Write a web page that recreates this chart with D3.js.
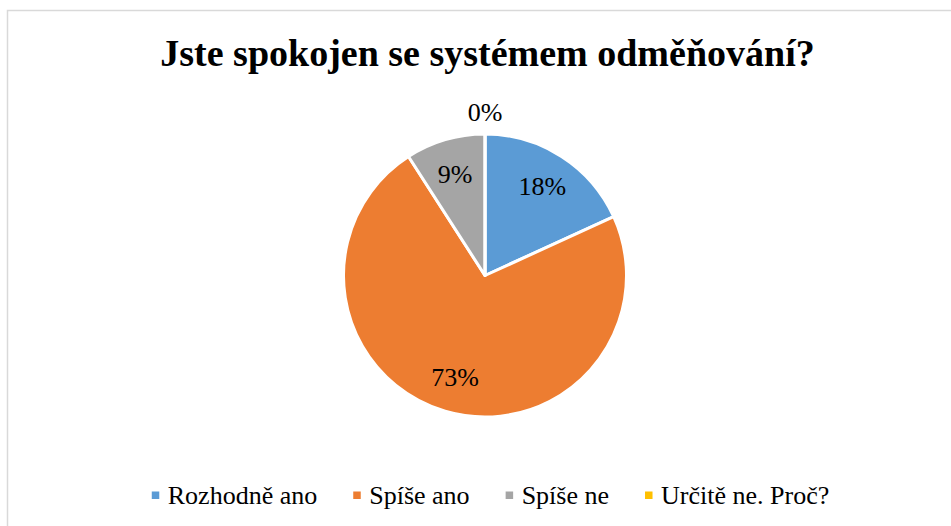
<!DOCTYPE html>
<html>
<head>
<meta charset="utf-8">
<script src="https://cdn.jsdelivr.net/npm/d3@7"></script>
<style>
  html, body { margin: 0; padding: 0; background: #fff; }
  svg { display: block; }
</style>
</head>
<body>
<div id="main"></div>
<script>
// chart data
const TITLE = 'Jste spokojen se systémem odměňování?';
const categories = ['Rozhodně ano', 'Spíše ano', 'Spíše ne', 'Určitě ne. Proč?'];
const counts = [2, 8, 1, 0];
const colors = ['#5b9bd5', '#ed7d31', '#a5a5a5', '#ffc000'];

const W = 951;
const H = 526;
const CX = 485;
const CY = 275.5;
const R = 141.5;
const FONT = "'Liberation Serif', 'Times New Roman', serif";

const svg = d3
  .select('div#main')
  .append('svg')
  .attr('width', W)
  .attr('height', H);

// chart area frame (runs off the right and bottom edge)
svg
  .append('rect')
  .attr('x', 7.5)
  .attr('y', 10.5)
  .attr('width', W + 20)
  .attr('height', H + 20)
  .attr('fill', '#fff')
  .attr('stroke', '#d9d9d9')
  .attr('stroke-width', 1.5);

// title
svg
  .append('text')
  .attr('x', 487.5)
  .attr('y', 66)
  .attr('text-anchor', 'middle')
  .style('font-family', FONT)
  .style('font-size', '38px')
  .style('font-weight', 'bold')
  .text(TITLE);

const records = categories.map((c, i) => ({ name: c, value: counts[i], color: colors[i] }));
const total = d3.sum(counts);

const pie = d3.pie().sort(null).value((d) => d.value);
const arcs = pie(records);

const arc = d3.arc().innerRadius(0).outerRadius(R);
const labelArc = d3.arc().innerRadius(R * 0.75).outerRadius(R * 0.75);
const outerLabelArc = d3.arc().innerRadius(R + 22).outerRadius(R + 22);

const g = svg.append('g').attr('transform', `translate(${CX},${CY})`);

g.selectAll('.slice')
  .data(arcs)
  .enter()
  .append('path')
  .attr('class', 'slice')
  .attr('d', arc)
  .attr('fill', (d) => d.data.color)
  .attr('stroke', '#fff')
  .attr('stroke-width', 3)
  .attr('stroke-linejoin', 'round');

// data labels, empty slices get their label outside
g.selectAll('.label')
  .data(arcs)
  .enter()
  .append('text')
  .attr('class', 'label')
  .attr('transform', (d) => {
    const c = d.value === 0 ? outerLabelArc.centroid(d) : labelArc.centroid(d);
    return `translate(${c[0]},${c[1]})`;
  })
  .attr('text-anchor', 'middle')
  .attr('dy', '0.35em')
  .style('font-family', FONT)
  .style('font-size', '26px')
  .attr('fill', '#000')
  .text((d) => `${Math.round((d.value / total) * 100)}%`);

// legend
const legend = svg.append('g').attr('class', 'legend');
const items = legend
  .selectAll('.item')
  .data(records)
  .enter()
  .append('g')
  .attr('class', 'item');

items
  .append('rect')
  .attr('width', 7.5)
  .attr('height', 7.5)
  .attr('y', -12.5)
  .attr('fill', (d) => d.color);

items
  .append('text')
  .attr('x', 16)
  .style('font-family', FONT)
  .style('font-size', '26px')
  .text((d) => d.name);

let offset = 0;
const widths = [];
items.each(function () {
  widths.push(16 + this.querySelector('text').getComputedTextLength());
});
const legendWidth = d3.sum(widths) + 36 * (widths.length - 1);
const startX = 490.5 - legendWidth / 2;
items.attr('transform', (d, i) => {
  const x = startX + offset;
  offset += widths[i] + 36;
  return `translate(${x},504)`;
});
</script>
</body>
</html>
